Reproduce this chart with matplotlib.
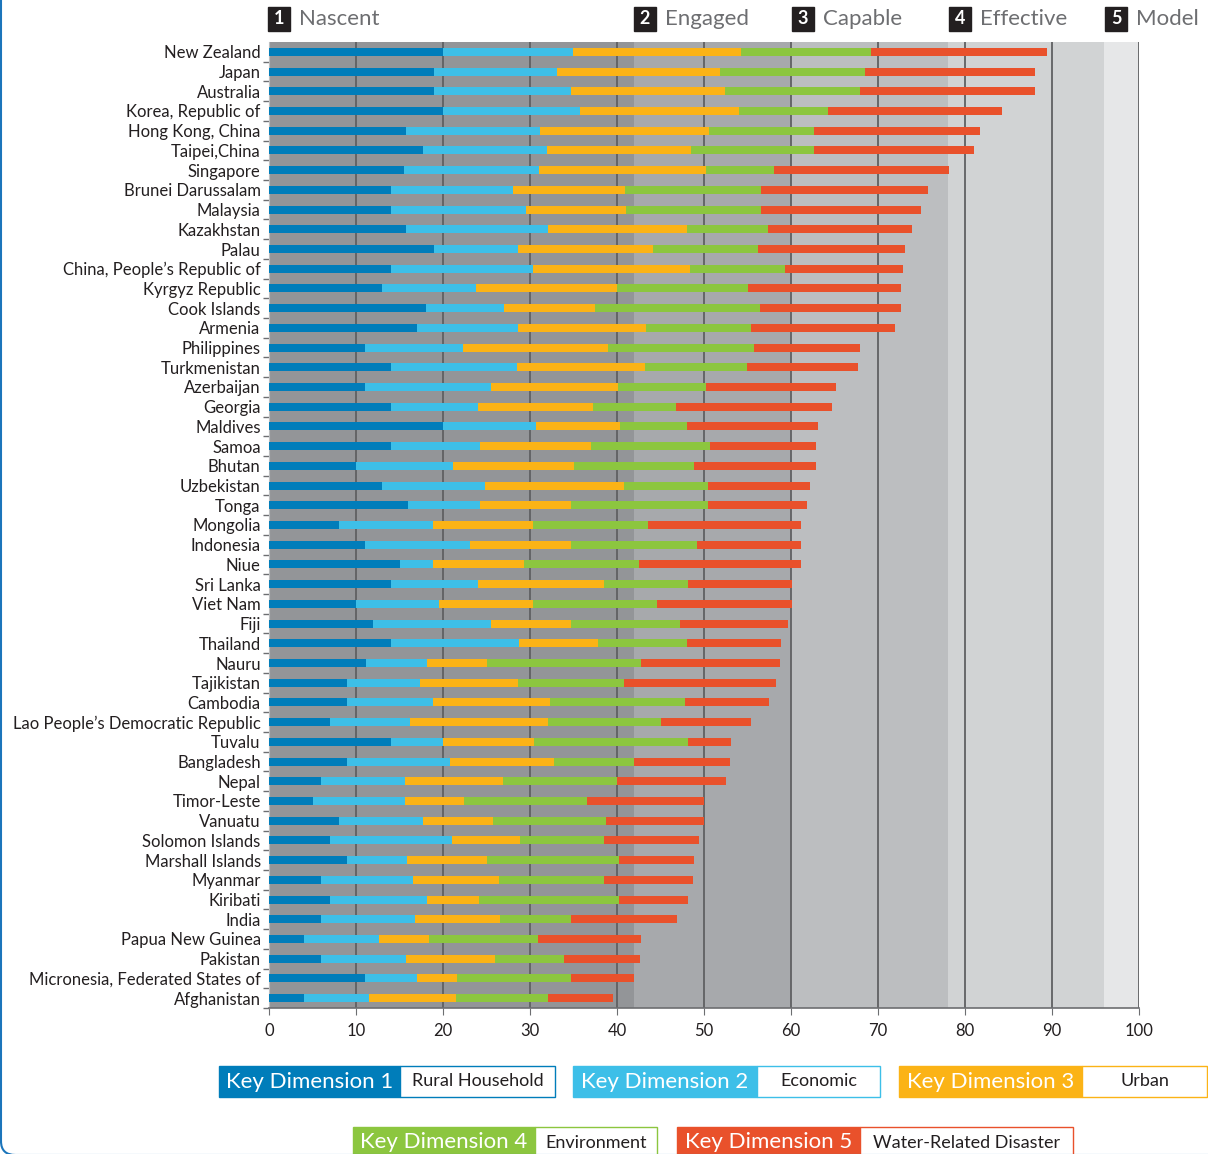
import numpy as np
import matplotlib.pyplot as plt
from matplotlib.patches import Rectangle, FancyBboxPatch

plt.rcParams['font.family'] = ['Lato', 'DejaVu Sans']

countries = [
    "New Zealand", "Japan", "Australia", "Korea, Republic of", "Hong Kong, China",
    "Taipei,China", "Singapore", "Brunei Darussalam", "Malaysia", "Kazakhstan",
    "Palau", "China, People\u2019s Republic of", "Kyrgyz Republic", "Cook Islands", "Armenia",
    "Philippines", "Turkmenistan", "Azerbaijan", "Georgia", "Maldives",
    "Samoa", "Bhutan", "Uzbekistan", "Tonga", "Mongolia",
    "Indonesia", "Niue", "Sri Lanka", "Viet Nam", "Fiji",
    "Thailand", "Nauru", "Tajikistan", "Cambodia", "Lao People\u2019s Democratic Republic",
    "Tuvalu", "Bangladesh", "Nepal", "Timor-Leste", "Vanuatu",
    "Solomon Islands", "Marshall Islands", "Myanmar", "Kiribati", "India",
    "Papua New Guinea", "Pakistan", "Micronesia, Federated States of", "Afghanistan",
]

# scores per key dimension (stacked)
kd1 = [20, 19, 19, 20, 15.8, 17.7, 15.5, 14, 14, 15.8,
       19, 14, 13, 18, 17, 11, 14, 11, 14, 20,
       14, 10, 13, 16, 8, 11, 15, 14, 10, 12,
       14, 11.1, 9, 9, 7, 14, 9, 6, 5, 8,
       7, 9, 6, 7, 6, 4, 6, 11, 4]
kd2 = [14.9, 14.1, 15.7, 15.7, 15.4, 14.2, 15.5, 14.1, 15.5, 16.3,
       9.6, 16.3, 10.8, 9.0, 11.6, 11.3, 14.5, 14.5, 10.0, 10.7,
       10.2, 11.1, 11.8, 8.2, 10.8, 12.1, 3.9, 10.0, 9.5, 13.5,
       14.7, 7.1, 8.3, 9.9, 9.2, 6.0, 11.8, 9.6, 10.6, 9.7,
       14.0, 6.9, 10.6, 11.2, 10.8, 8.6, 9.8, 6.0, 7.5]
kd3 = [19.4, 18.7, 17.7, 18.3, 19.4, 16.6, 19.2, 12.8, 11.5, 15.9,
       15.5, 18.1, 16.2, 10.5, 14.7, 16.7, 14.7, 14.6, 13.2, 9.6,
       12.8, 13.9, 16.0, 10.5, 11.6, 11.6, 10.4, 14.5, 10.8, 9.2,
       9.1, 6.9, 11.3, 13.4, 15.9, 10.5, 12.0, 11.3, 6.8, 8.0,
       7.9, 9.1, 9.8, 5.9, 9.7, 5.8, 10.2, 4.6, 10.0]
kd4 = [14.9, 16.7, 15.5, 10.3, 12.1, 14.1, 7.9, 15.6, 15.5, 9.4,
       12.1, 10.9, 15.0, 18.9, 12.1, 16.8, 11.7, 10.1, 9.6, 7.8,
       13.7, 13.8, 9.7, 15.8, 13.2, 14.5, 13.2, 9.7, 14.3, 12.5,
       10.2, 17.7, 12.2, 15.5, 13.0, 17.7, 9.1, 13.1, 14.1, 13.0,
       9.6, 15.2, 12.1, 16.1, 8.2, 12.5, 7.9, 13.1, 10.6]
kd5 = [20.2, 19.6, 20.1, 20.0, 19.0, 18.4, 20.1, 19.2, 18.4, 16.5,
       16.9, 13.6, 17.7, 16.2, 16.6, 12.1, 12.8, 15.0, 17.9, 15.0,
       12.2, 14.1, 11.7, 11.3, 17.6, 12.0, 18.6, 11.9, 15.5, 12.4,
       10.8, 15.9, 17.5, 9.7, 10.3, 4.9, 11.1, 12.5, 13.5, 11.3,
       10.9, 8.7, 10.2, 8.0, 12.2, 11.9, 8.8, 7.3, 7.4]

dim_names = ["Key Dimension 1", "Key Dimension 2", "Key Dimension 3",
             "Key Dimension 4", "Key Dimension 5"]
dim_desc = ["Rural Household", "Economic", "Urban", "Environment",
            "Water-Related Disaster"]
colors = ["#007dba", "#3dbfe8", "#fbb316", "#8cc63f", "#e9512b"]

stages = ["Nascent", "Engaged", "Capable", "Effective", "Model"]
stage_start = [0, 42, 60, 78, 96]
band_colors = ["#939598", "#a7a9ac", "#bcbec0", "#d1d3d4", "#e6e7e8"]

W, H = 1208, 1154
fig = plt.figure(figsize=(W / 100, H / 100), dpi=100)
ax = fig.add_axes([269 / W, 1 - 1008 / H, 870 / W, 966 / H])

# stage background bands
edges = stage_start + [100]
for i in range(5):
    ax.axvspan(edges[i], edges[i + 1], color=band_colors[i], zorder=0, lw=0)
for x in range(10, 101, 10):
    ax.axvline(x, color="#5f6062", lw=1.3, zorder=1)

y = np.arange(len(countries))
left = np.zeros(len(countries))
for vals, c in zip([kd1, kd2, kd3, kd4, kd5], colors):
    ax.barh(y, vals, left=left, height=0.41, color=c, zorder=3)
    left += np.array(vals)

ax.set_xlim(0, 100)
ax.set_ylim(len(countries) - 0.5, -0.5)
ax.set_xticks(range(0, 101, 10))
ax.set_yticks(y)
ax.set_yticklabels(countries, fontsize=12, color="#231f20")
ax.set_yticks(np.arange(len(countries)) + 0.5, minor=True)
ax.tick_params(axis="y", which="major", length=0, pad=6)
ax.tick_params(axis="y", which="minor", length=4, color="#6d6e71", width=1)
ax.tick_params(axis="x", length=5, color="#6d6e71", labelsize=12,
               labelcolor="#231f20", pad=6)
for s in ["top", "right"]:
    ax.spines[s].set_visible(False)
ax.spines["left"].set_color("#bcbec0")
ax.spines["bottom"].set_color("#6d6e71")
ax.spines["bottom"].set_linewidth(1.2)

# stage headers
header_x = [268, 634, 792, 949, 1105]
for i, (name, hx) in enumerate(zip(stages, header_x)):
    fig.patches.append(Rectangle((hx / W, 1 - 31 / H), 22 / W, 24 / H,
                                 transform=fig.transFigure, color="#231f20"))
    fig.text((hx + 11) / W, 1 - 19 / H, str(i + 1), color="white", fontsize=13,
             fontweight="bold", ha="center", va="center")
    fig.text((hx + 31) / W, 1 - 19 / H, name, color="#6d6e71", fontsize=16,
             ha="left", va="center")

# legend boxes
legend_pos = [(219, 400, 555, 1066), (573, 757, 880, 1066), (899, 1082, 1207, 1066),
              (353, 535, 657, 1127), (677, 860, 1073, 1127)]
for (x0, x1, x2, top), name, desc, c in zip(legend_pos, dim_names, dim_desc, colors):
    bh = 31
    fig.patches.append(Rectangle((x0 / W, 1 - (top + bh) / H), (x1 - x0) / W, bh / H,
                                 transform=fig.transFigure, facecolor=c, edgecolor=c))
    fig.patches.append(Rectangle((x1 / W, 1 - (top + bh) / H), (x2 - x1) / W, bh / H,
                                 transform=fig.transFigure, facecolor="white",
                                 edgecolor=c, lw=1))
    fig.text((x0 + x1) / 2 / W, 1 - (top + bh / 2) / H, name, color="white",
             fontsize=16, ha="center", va="center")
    fig.text((x1 + x2) / 2 / W, 1 - (top + bh / 2) / H, desc, color="#231f20",
             fontsize=13, ha="center", va="center")

# page frame on the left, bottom edge just below the image
fig.patches.append(FancyBboxPatch((1 / W, -1 / H), 1.2, 1.2,
                                  boxstyle="round,pad=0,rounding_size=0.012",
                                  transform=fig.transFigure, facecolor="none",
                                  edgecolor="#1b75bb", lw=1.5))

fig.savefig("out.png", dpi=100)
